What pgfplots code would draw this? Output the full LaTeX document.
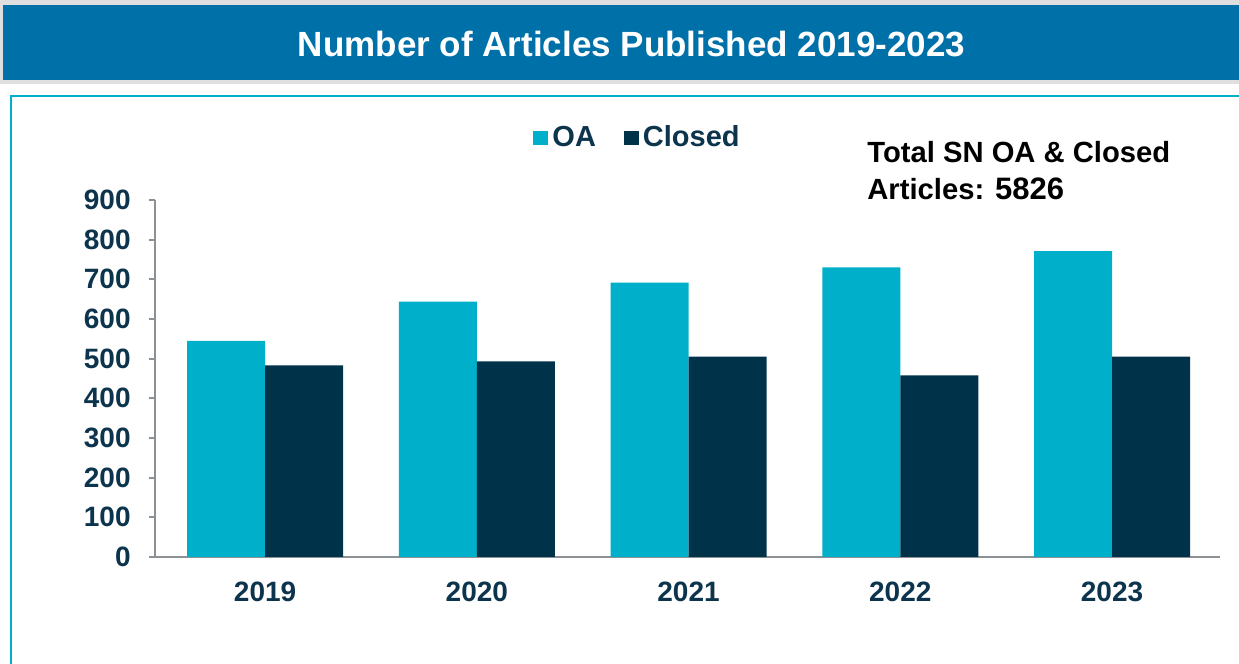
\documentclass[border=0pt]{standalone}
\usepackage{pgfplots}
\pgfplotsset{compat=1.18}
\usepackage{fontspec}
\setmainfont{Liberation Sans}
\definecolor{oacol}{RGB}{0,176,202}
\definecolor{closedcol}{RGB}{0,50,74}
\definecolor{navytext}{RGB}{12,52,77}
\definecolor{banner}{RGB}{0,112,168}
\definecolor{boxcol}{RGB}{0,176,202}
\definecolor{axgray}{RGB}{140,145,150}
\begin{document}
\begin{tikzpicture}
\path[use as bounding box] (0pt,0pt) rectangle (619.5pt,332pt);
% banner
\fill[gray!25] (0pt,290pt) rectangle (640pt,332pt);
\fill[banner] (1.5pt,292pt) rectangle (640pt,329.5pt);
\node[text=white,font=\bfseries\fontsize{17.5}{20}\selectfont] at (315.75pt,310pt) {Number of Articles Published 2019-2023};
% box
\draw[boxcol,line width=1.2pt] (5.5pt,-10pt) -- (5.5pt,284pt) -- (640pt,284pt);
\begin{axis}[
  at={(77.5pt,53.5pt)}, anchor=south west,
  scale only axis, width=532.5pt, height=178.5pt,
  ybar=0pt, bar width=39pt,
  xmin=-0.52, xmax=4.51, ymin=0, ymax=900,
  xtick={0,1,2,3,4}, xticklabels={2019,2020,2021,2022,2023},
  ytick={0,100,...,900},
  axis x line*=bottom, axis y line*=left,
  axis line style={axgray,line width=1pt},
  x axis line style={-}, y axis line style={-},
  xtick style={draw=none},
  ytick style={axgray,line width=1pt},
  major tick length=3pt, tick align=outside,
  /pgf/number format/assume math mode=true,
  ticklabel style={font=\bfseries\fontsize{14}{16}\selectfont, text=navytext},
  xticklabel style={anchor=base, yshift=-19.5pt},
  yticklabel style={anchor=east, inner sep=0pt, xshift=-9pt},
  legend columns=2,
  legend style={at={(axis description cs:0.355,1.174)}, anchor=west, draw=none, fill=none,
    font=\bfseries\fontsize{14.5}{16}\selectfont, text=navytext,
    /tikz/every even column/.append style={column sep=12pt},
    inner sep=0pt},
  legend image code/.code={\fill[#1] (0pt,-3.6pt) rectangle (7.5pt,3.6pt);},
  clip=false,
]
\addplot[fill=oacol, draw=none] coordinates {(0,545) (1,644) (2,692) (3,730) (4,771)};
\addlegendentry{OA}
\addplot[fill=closedcol, draw=none] coordinates {(0,483) (1,493) (2,505) (3,458) (4,505)};
\addlegendentry{Closed}
\end{axis}
\node[anchor=base west, font=\bfseries\fontsize{14.6}{17}\selectfont, text=black, inner sep=0pt] at (433.5pt,250.5pt) {Total SN OA \& Closed};
\node[anchor=base west, font=\bfseries\fontsize{14.6}{17}\selectfont, text=black, inner sep=0pt] at (433.5pt,232pt) {Articles: {\fontsize{15.5}{18}\selectfont 5826}};
\end{tikzpicture}
\end{document}
